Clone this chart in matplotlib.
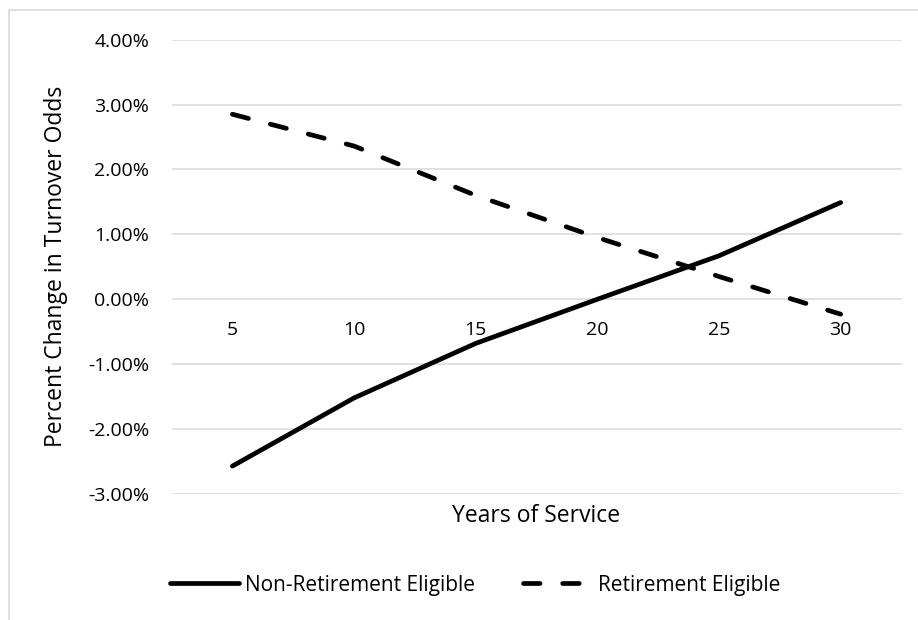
import matplotlib
matplotlib.use("Agg")
import matplotlib.pyplot as plt
from matplotlib.patches import Rectangle
from matplotlib.ticker import FuncFormatter

# Data
years = [5, 10, 15, 20, 25, 30]
non_retirement = [-2.57, -1.52, -0.68, 0.00, 0.67, 1.49]
retirement = [2.85, 2.36, 1.60, 0.95, 0.35, -0.23]
y_ticks = [-3, -2, -1, 0, 1, 2, 3, 4]

plt.rcParams["font.family"] = ["Open Sans", "DejaVu Sans"]
TICK_FS = 14
LABEL_FS = 16.5
LEGEND_FS = 15

W, H = 918, 620
fig = plt.figure(figsize=(W / 100, H / 100), dpi=100)

# light chart-area border (left and top edges visible)
fig.add_artist(Rectangle((8.5 / W, -0.1), 2.0, 1.1 - 10.5 / H,
                         transform=fig.transFigure, fill=False,
                         edgecolor="#d9d9d9", linewidth=1.2))

left, right = 171.6 / W, 901.5 / W
bottom, top = (H - 494.0) / H, (H - 39.6) / H
ax = fig.add_axes([left, bottom, right - left, top - bottom])

lw = 3.4
ax.plot(years, non_retirement, color="black", linewidth=lw,
        solid_capstyle="round", solid_joinstyle="round",
        label="Non-Retirement Eligible", zorder=3)
ax.plot(years, retirement, color="black", linewidth=lw,
        dashes=(3.5, 4.8), dash_capstyle="round",
        label="Retirement Eligible", zorder=3)

ax.set_xlim(2.5, 32.5)
ax.set_ylim(-3, 4)
ax.set_yticks(y_ticks)
ax.yaxis.set_major_formatter(FuncFormatter(lambda v, p: f"{v:.2f}%"))
ax.set_xticks(years)
ax.set_xticklabels([str(y) for y in years])

ax.grid(axis="y", color="#d9d9d9", linewidth=1.1)
ax.set_axisbelow(True)
for s in ["top", "right", "left"]:
    ax.spines[s].set_visible(False)
ax.spines["bottom"].set_position(("data", 0))
ax.spines["bottom"].set_visible(False)

ax.tick_params(axis="y", length=0, pad=16, labelsize=TICK_FS, colors="#000000")
ax.tick_params(axis="x", length=0, pad=16, labelsize=TICK_FS, colors="#000000")

ax.set_xlabel("Years of Service", fontsize=LABEL_FS)
ax.xaxis.set_label_coords(0.5, -0.022)
ax.set_ylabel("Percent Change in Turnover Odds", fontsize=LABEL_FS)
ax.yaxis.set_label_coords(-0.142, 0.5)

fig.legend(loc="center", bbox_to_anchor=(475 / W, 1 - 585 / H), ncol=2,
           frameon=False, fontsize=LEGEND_FS, handlelength=3.3,
           handletextpad=0.3, columnspacing=2.3)

fig.savefig("out.png", dpi=100, facecolor="white")
